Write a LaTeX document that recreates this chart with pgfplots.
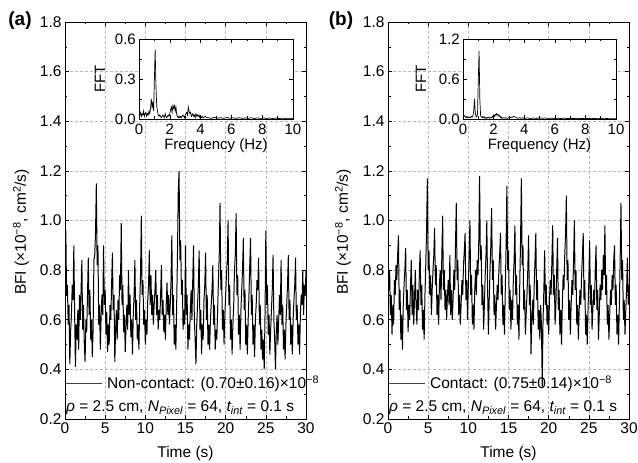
\documentclass[border=0pt]{standalone}
\usepackage{fontspec}
\setmainfont{Liberation Sans}
\usepackage{pgfplots}
\pgfplotsset{compat=1.18}
\newcommand{\fs}{\fontsize{15.5bp}{18bp}\selectfont}
\newcommand{\fsi}{\fontsize{15bp}{17bp}\selectfont}
\pgfplotsset{
  common/.style={scale only axis, anchor=south west,
    tick align=inside, major tick length=4bp, minor tick length=2.5bp,
    every tick/.style={black, line width=0.5pt},
    axis line style={line width=0.7pt},
    tick label style={font=\fs},
    /pgf/number format/assume math mode=true,
    y tick label style={/pgf/number format/.cd, fixed, fixed zerofill, precision=1, /tikz/.cd},
    x tick label style={/pgf/number format/.cd, fixed, precision=0, /tikz/.cd}},
  main/.style={common, width=241bp, height=397bp,
    xmin=0, xmax=30, ymin=0.2, ymax=1.8,
    xtick={0,5,10,15,20,25,30}, ytick={0.2,0.4,0.6,0.8,1.0,1.2,1.4,1.6,1.8},
    minor x tick num=1, minor y tick num=1,
    grid=major, major grid style={gray!55, dash pattern=on 2.5bp off 2.5bp, line width=0.5pt},
    legend style={at={(0,0.0907)}, anchor=west, draw=none, fill=none, inner sep=0pt, font=\fs, nodes={inner sep=0pt}},
    legend image code/.code={\draw[black!75, line width=0.9pt] (0bp,0bp) -- (36.7bp,0bp); \path (41bp,0bp);}},
  inset/.style={common, width=154bp, height=80bp,
    xmin=0, xmax=10, ymin=0,
    xtick={0,2,4,6,8,10}, minor x tick num=1, minor y tick num=1,
    tick label style={font=\fsi},
    x tick label style={inner sep=0pt, yshift=-4.5bp},
    y tick label style={inner sep=1bp, xshift=-2bp},
    axis background/.style={fill=white}},
}
\begin{document}
\begin{tikzpicture}
\path[use as bounding box] (0,0) rectangle (638bp,463bp);
% ---------------- (a) main
\begin{axis}[main, at={(65bp,44bp)}]
\addplot[black, line width=1pt] coordinates {
(0.0,0.78)(0.1,0.96)(0.2,0.70)(0.3,0.74)(0.4,0.58)(0.5,0.66)(0.6,0.42)(0.7,0.55)(0.8,0.62)(0.9,0.74)
(1.0,0.68)(1.1,0.90)(1.2,0.62)(1.3,0.41)(1.4,0.58)(1.5,0.52)(1.6,0.64)(1.7,0.48)(1.8,0.70)(1.9,0.60)
(2.0,0.72)(2.1,0.84)(2.2,0.56)(2.3,0.66)(2.4,0.50)(2.5,0.43)(2.6,0.60)(2.7,0.55)(2.8,0.70)(2.9,0.85)
(3.0,0.62)(3.1,0.72)(3.2,0.52)(3.3,0.60)(3.4,0.45)(3.5,0.56)(3.6,0.84)(3.7,0.86)(3.8,0.95)(3.9,1.15)
(4.0,0.82)(4.1,0.90)(4.2,0.58)(4.3,0.66)(4.4,0.48)(4.5,0.62)(4.6,0.70)(4.7,0.62)(4.8,0.90)(4.9,0.66)
(5.0,0.72)(5.1,0.54)(5.2,0.63)(5.3,0.47)(5.4,0.58)(5.5,0.50)(5.6,0.66)(5.7,0.60)(5.8,0.74)(5.9,0.87)
(6.0,0.64)(6.1,0.70)(6.2,0.43)(6.3,0.56)(6.4,0.64)(6.5,0.52)(6.6,0.68)(6.7,0.60)(6.8,0.78)(6.9,0.72)
(7.0,0.99)(7.1,0.66)(7.2,0.74)(7.3,0.55)(7.4,0.62)(7.5,0.47)(7.6,0.58)(7.7,0.66)(7.8,0.56)(7.9,0.80)
(8.0,0.62)(8.1,0.70)(8.2,0.53)(8.3,0.60)(8.4,0.46)(8.5,0.62)(8.6,0.70)(8.7,0.84)(8.8,0.60)(8.9,0.68)
(9.0,0.52)(9.1,0.58)(9.2,0.48)(9.3,0.66)(9.4,0.78)(9.5,1.02)(9.6,0.70)(9.7,0.76)(9.8,0.58)(9.9,0.64)
(10.0,0.50)(10.1,0.60)(10.2,0.54)(10.3,0.68)(10.4,0.74)(10.5,0.88)(10.6,0.66)(10.7,0.78)(10.8,0.62)(10.9,0.70)
(11.0,0.58)(11.1,0.66)(11.2,0.72)(11.3,0.80)(11.4,0.62)(11.5,0.70)(11.6,0.56)(11.7,0.64)(11.8,0.60)(11.9,0.70)
(12.0,0.82)(12.1,0.62)(12.2,0.68)(12.3,0.55)(12.4,0.62)(12.5,0.52)(12.6,0.66)(12.7,0.75)(12.8,0.62)(12.9,0.70)
(13.0,0.58)(13.1,0.66)(13.2,0.76)(13.3,0.94)(13.4,0.62)(13.5,0.70)(13.6,0.50)(13.7,0.58)(13.8,0.48)(13.9,0.66)
(14.0,0.86)(14.1,1.12)(14.2,1.20)(14.3,0.84)(14.4,0.92)(14.5,0.70)(14.6,0.76)(14.7,0.56)(14.8,0.64)(14.9,0.58)
(15.0,0.90)(15.1,0.62)(15.2,0.70)(15.3,0.48)(15.4,0.58)(15.5,0.52)(15.6,0.64)(15.7,0.72)(15.8,0.60)(15.9,0.76)
(16.0,0.90)(16.1,0.60)(16.2,0.52)(16.3,0.42)(16.4,0.58)(16.5,0.66)(16.6,0.74)(16.7,0.88)(16.8,0.56)(16.9,0.64)
(17.0,0.46)(17.1,0.58)(17.2,0.52)(17.3,0.68)(17.4,0.74)(17.5,0.87)(17.6,0.60)(17.7,0.70)(17.8,0.50)(17.9,0.58)
(18.0,0.48)(18.1,0.60)(18.2,0.66)(18.3,0.72)(18.4,0.82)(18.5,0.58)(18.6,0.66)(18.7,0.48)(18.8,0.56)(18.9,0.52)
(19.0,0.64)(19.1,0.76)(19.2,0.86)(19.3,1.07)(19.4,0.72)(19.5,0.80)(19.6,0.56)(19.7,0.64)(19.8,0.50)(19.9,0.62)
(20.0,0.70)(20.1,0.78)(20.2,0.84)(20.3,1.00)(20.4,0.66)(20.5,0.74)(20.6,0.52)(20.7,0.60)(20.8,0.46)(20.9,0.58)
(21.0,0.66)(21.1,0.80)(21.2,0.86)(21.3,1.03)(21.4,0.70)(21.5,0.78)(21.6,0.54)(21.7,0.62)(21.8,0.48)(21.9,0.64)
(22.0,0.72)(22.1,0.80)(22.2,0.93)(22.3,0.64)(22.4,0.72)(22.5,0.50)(22.6,0.58)(22.7,0.46)(22.8,0.60)(22.9,0.70)
(23.0,0.82)(23.1,0.93)(23.2,0.62)(23.3,0.70)(23.4,0.50)(23.5,0.58)(23.6,0.45)(23.7,0.60)(23.8,0.66)(23.9,0.76)
(24.0,0.72)(24.1,0.85)(24.2,0.58)(24.3,0.66)(24.4,0.48)(24.5,0.56)(24.6,0.44)(24.7,0.52)(24.8,0.40)(24.9,0.62)
(25.0,0.96)(25.1,0.66)(25.2,0.74)(25.3,0.54)(25.4,0.62)(25.5,0.46)(25.6,0.56)(25.7,0.64)(25.8,0.72)(25.9,0.86)
(26.0,0.60)(26.1,0.52)(26.2,0.40)(26.3,0.55)(26.4,0.62)(26.5,0.50)(26.6,0.60)(26.7,0.70)(26.8,0.62)(26.9,0.84)
(27.0,0.58)(27.1,0.66)(27.2,0.48)(27.3,0.56)(27.4,0.44)(27.5,0.58)(27.6,0.66)(27.7,0.74)(27.8,0.86)(27.9,0.60)
(28.0,0.68)(28.1,0.50)(28.2,0.58)(28.3,0.46)(28.4,0.60)(28.5,0.68)(28.6,0.74)(28.7,0.85)(28.8,0.60)(28.9,0.66)
(29.0,0.50)(29.1,0.58)(29.2,0.46)(29.3,0.62)(29.4,0.70)(29.5,0.66)(29.6,0.80)(29.7,0.62)(29.8,0.74)(29.9,0.70)(30.0,0.80)
};
\addlegendentry{Non-contact: (0.70±0.16)×10\textsuperscript{−8}}
\end{axis}
% ---------------- (a) inset
\begin{axis}[inset, at={(139bp,344bp)}, ymax=0.6, ytick={0,0.3,0.6}]
\addplot[black, line width=0.7pt] coordinates {
(0.00,0.10)(0.05,0.03)(0.10,0.05)(0.15,0.02)(0.20,0.04)(0.25,0.03)(0.30,0.06)(0.35,0.02)(0.40,0.04)(0.45,0.05)
(0.50,0.02)(0.55,0.04)(0.60,0.03)(0.65,0.06)(0.70,0.04)(0.75,0.08)(0.80,0.15)(0.85,0.09)(0.90,0.12)(0.95,0.06)
(1.00,0.30)(1.05,0.52)(1.10,0.25)(1.15,0.10)(1.20,0.06)(1.25,0.03)(1.30,0.02)(1.35,0.03)(1.40,0.02)(1.45,0.01)
(1.50,0.02)(1.55,0.03)(1.60,0.02)(1.65,0.01)(1.70,0.04)(1.75,0.02)(1.80,0.01)(1.85,0.02)(1.90,0.03)(1.95,0.02)
(2.00,0.04)(2.05,0.07)(2.10,0.09)(2.15,0.05)(2.20,0.10)(2.25,0.08)(2.30,0.10)(2.35,0.06)(2.40,0.09)(2.45,0.03)
(2.50,0.02)(2.55,0.01)(2.60,0.02)(2.65,0.01)(2.70,0.02)(2.75,0.01)(2.80,0.02)(2.85,0.03)(2.90,0.02)(2.95,0.01)
(3.00,0.03)(3.05,0.04)(3.10,0.05)(3.15,0.03)(3.20,0.09)(3.25,0.06)(3.30,0.04)(3.35,0.05)(3.40,0.02)(3.45,0.03)
(3.50,0.04)(3.55,0.02)(3.60,0.03)(3.65,0.01)(3.70,0.04)(3.75,0.02)(3.80,0.03)(3.85,0.02)(3.90,0.03)(3.95,0.01)
(4.00,0.02)(4.05,0.01)(4.10,0.02)(4.15,0.01)(4.20,0.01)(4.30,0.02)(4.40,0.01)(4.50,0.01)(4.70,0.005)(4.90,0.012)
(5.10,0.006)(5.30,0.010)(5.50,0.005)(5.70,0.011)(5.90,0.006)(6.10,0.009)(6.30,0.005)(6.50,0.010)(6.70,0.005)(6.90,0.008)
(7.10,0.005)(7.30,0.009)(7.50,0.004)(7.70,0.008)(7.90,0.005)(8.10,0.008)(8.30,0.004)(8.50,0.007)(8.70,0.004)(8.90,0.007)
(9.10,0.004)(9.30,0.006)(9.50,0.004)(9.70,0.006)(9.90,0.004)(10.0,0.005)
};
\end{axis}
% ---------------- (b) main
\begin{axis}[main, at={(388bp,44bp)}]
\addplot[black, line width=1pt] coordinates {
(0.0,0.93)(0.1,0.72)(0.2,0.80)(0.3,0.62)(0.4,0.70)(0.5,0.54)(0.6,0.66)(0.7,0.58)(0.8,0.76)(0.9,0.70)
(1.0,0.82)(1.1,0.76)(1.2,0.86)(1.3,0.94)(1.4,0.64)(1.5,0.72)(1.6,0.52)(1.7,0.62)(1.8,0.48)(1.9,0.66)
(2.0,0.74)(2.1,0.80)(2.2,0.89)(2.3,0.64)(2.4,0.72)(2.5,0.55)(2.6,0.66)(2.7,0.60)(2.8,0.74)(2.9,0.84)
(3.0,0.62)(3.1,0.74)(3.2,0.58)(3.3,0.68)(3.4,0.80)(3.5,0.66)(3.6,0.58)(3.7,0.72)(3.8,0.64)(3.9,0.78)
(4.0,0.88)(4.1,0.66)(4.2,0.74)(4.3,0.56)(4.4,0.64)(4.5,0.52)(4.6,0.70)(4.7,0.82)(4.8,0.96)(4.9,1.17)
(5.0,0.80)(5.1,0.88)(5.2,0.70)(5.3,0.78)(5.4,0.62)(5.5,0.72)(5.6,0.80)(5.7,0.86)(5.8,0.97)(5.9,0.74)
(6.0,0.82)(6.1,0.62)(6.2,0.70)(6.3,0.58)(6.4,0.74)(6.5,0.80)(6.6,0.68)(6.7,0.86)(6.8,1.02)(6.9,0.72)
(7.0,0.80)(7.1,0.64)(7.2,0.72)(7.3,0.60)(7.4,0.70)(7.5,0.76)(7.6,0.66)(7.7,0.86)(7.8,0.62)(7.9,0.72)
(8.0,0.60)(8.1,0.68)(8.2,0.80)(8.3,0.72)(8.4,0.90)(8.5,1.07)(8.6,0.76)(8.7,0.84)(8.8,0.62)(8.9,0.70)
(9.0,0.58)(9.1,0.66)(9.2,0.76)(9.3,0.70)(9.4,0.82)(9.5,0.88)(9.6,0.95)(9.7,0.68)(9.8,0.76)(9.9,0.60)
(10.0,0.74)(10.1,0.86)(10.2,1.00)(10.3,0.70)(10.4,0.78)(10.5,0.58)(10.6,0.66)(10.7,0.56)(10.8,0.72)(10.9,0.80)
(11.0,0.70)(11.1,0.84)(11.2,0.78)(11.3,0.92)(11.4,1.18)(11.5,0.84)(11.6,0.90)(11.7,0.66)(11.8,0.74)(11.9,0.56)
(12.0,0.66)(12.1,0.78)(12.2,0.86)(12.3,1.00)(12.4,0.72)(12.5,0.54)(12.6,0.68)(12.7,0.80)(12.8,0.90)(12.9,1.05)
(13.0,0.76)(13.1,0.84)(13.2,0.62)(13.3,0.70)(13.4,0.56)(13.5,0.66)(13.6,0.74)(13.7,0.68)(13.8,0.80)(13.9,0.86)
(14.0,0.95)(14.1,0.70)(14.2,0.78)(14.3,0.58)(14.4,0.66)(14.5,0.54)(14.6,0.72)(14.7,0.90)(14.8,1.14)(14.9,0.80)
(15.0,0.88)(15.1,0.64)(15.2,0.72)(15.3,0.56)(15.4,0.68)(15.5,0.60)(15.6,0.76)(15.7,0.84)(15.8,0.98)(15.9,0.70)
(16.0,0.78)(16.1,0.58)(16.2,0.66)(16.3,0.52)(16.4,0.74)(16.5,0.92)(16.6,1.17)(16.7,0.82)(16.8,0.90)(16.9,0.64)
(17.0,0.72)(17.1,0.54)(17.2,0.62)(17.3,0.70)(17.4,0.80)(17.5,0.94)(17.6,0.66)(17.7,0.74)(17.8,0.46)(17.9,0.60)
(18.0,0.68)(18.1,0.58)(18.2,0.74)(18.3,0.84)(18.4,0.95)(18.5,0.68)(18.6,0.76)(18.7,0.56)(18.8,0.64)(18.9,0.52)
(19.0,0.66)(19.1,0.58)(19.2,0.33)(19.3,0.60)(19.4,0.72)(19.5,0.88)(19.6,0.66)(19.7,0.74)(19.8,0.58)(19.9,0.66)
(20.0,0.54)(20.1,0.68)(20.2,0.76)(20.3,0.70)(20.4,0.84)(20.5,0.98)(20.6,0.70)(20.7,0.78)(20.8,0.58)(20.9,0.66)
(21.0,0.80)(21.1,0.93)(21.2,0.64)(21.3,0.72)(21.4,0.54)(21.5,0.64)(21.6,0.50)(21.7,0.66)(21.8,0.78)(21.9,0.72)
(22.0,0.86)(22.1,0.94)(22.2,1.10)(22.3,0.76)(22.4,0.84)(22.5,0.60)(22.6,0.68)(22.7,0.54)(22.8,0.66)(22.9,0.76)
(23.0,0.70)(23.1,0.84)(23.2,1.00)(23.3,0.72)(23.4,0.80)(23.5,0.58)(23.6,0.66)(23.7,0.52)(23.8,0.64)(23.9,0.72)
(24.0,0.66)(24.1,0.78)(24.2,0.86)(24.3,0.95)(24.4,0.68)(24.5,0.76)(24.6,0.54)(24.7,0.62)(24.8,0.50)(24.9,0.64)
(25.0,0.76)(25.1,0.92)(25.2,0.66)(25.3,0.74)(25.4,0.56)(25.5,0.64)(25.6,0.72)(25.7,0.66)(25.8,0.80)(25.9,0.90)
(26.0,0.64)(26.1,0.72)(26.2,0.52)(26.3,0.62)(26.4,0.74)(26.5,0.68)(26.6,0.80)(26.7,0.72)(26.8,0.86)(26.9,0.78)
(27.0,0.98)(27.1,0.70)(27.2,0.78)(27.3,0.58)(27.4,0.66)(27.5,0.52)(27.6,0.62)(27.7,0.72)(27.8,0.66)(27.9,0.78)
(28.0,0.72)(28.1,0.84)(28.2,0.90)(28.3,0.66)(28.4,0.74)(28.5,0.54)(28.6,0.62)(28.7,0.50)(28.8,0.66)(28.9,0.84)
(29.0,1.07)(29.1,0.76)(29.2,0.84)(29.3,0.60)(29.4,0.68)(29.5,0.54)(29.6,0.64)(29.7,0.72)(29.8,0.85)(29.9,0.66)(30.0,0.74)
};
\addlegendentry{Contact: (0.75±0.14)×10\textsuperscript{−8}}
\end{axis}
% ---------------- (b) inset
\begin{axis}[inset, at={(463bp,344bp)}, width=153bp, ymax=1.2, ytick={0,0.6,1.2}]
\addplot[black, line width=0.7pt] coordinates {
(0.00,0.06)(0.05,0.04)(0.10,0.05)(0.15,0.03)(0.20,0.02)(0.25,0.04)(0.30,0.02)(0.35,0.03)(0.40,0.02)(0.45,0.03)
(0.50,0.02)(0.55,0.04)(0.60,0.03)(0.65,0.05)(0.70,0.12)(0.75,0.30)(0.80,0.10)(0.85,0.04)(0.90,0.03)(0.95,0.08)
(1.00,0.60)(1.05,1.02)(1.10,0.30)(1.15,0.05)(1.20,0.03)(1.25,0.02)(1.30,0.04)(1.35,0.02)(1.40,0.03)(1.45,0.01)
(1.50,0.02)(1.55,0.01)(1.60,0.02)(1.65,0.03)(1.70,0.02)(1.75,0.01)(1.80,0.02)(1.85,0.03)(1.90,0.02)(1.95,0.04)
(2.00,0.06)(2.05,0.04)(2.10,0.07)(2.15,0.05)(2.20,0.08)(2.25,0.06)(2.30,0.07)(2.35,0.04)(2.40,0.05)(2.45,0.02)
(2.50,0.03)(2.55,0.01)(2.60,0.02)(2.70,0.01)(2.80,0.02)(2.90,0.01)(3.00,0.02)(3.10,0.03)(3.20,0.02)(3.30,0.04)
(3.40,0.03)(3.50,0.02)(3.60,0.01)(3.70,0.02)(3.80,0.01)(3.90,0.02)(4.00,0.01)(4.20,0.015)(4.40,0.008)(4.60,0.015)
(4.80,0.008)(5.00,0.018)(5.20,0.010)(5.40,0.015)(5.60,0.008)(5.80,0.012)(6.00,0.007)(6.20,0.012)(6.40,0.007)(6.60,0.014)
(6.80,0.006)(7.00,0.010)(7.20,0.006)(7.40,0.010)(7.60,0.005)(7.80,0.009)(8.00,0.005)(8.20,0.008)(8.40,0.005)(8.60,0.008)
(8.80,0.004)(9.00,0.008)(9.20,0.004)(9.40,0.007)(9.60,0.004)(9.80,0.006)(10.0,0.004)
};
\end{axis}
% ---------------- texts
\node[font=\bfseries\fontsize{19bp}{22bp}\selectfont] at (20bp,442bp) {(a)};
\node[font=\bfseries\fontsize{19bp}{22bp}\selectfont] at (341bp,442bp) {(b)};
\node[rotate=90, font=\fs] at (21bp,231bp) {BFI (×10\textsuperscript{−8}, cm\textsuperscript{2}/s)};
\node[rotate=90, font=\fs] at (343bp,231bp) {BFI (×10\textsuperscript{−8}, cm\textsuperscript{2}/s)};
\node[font=\fs] at (185.5bp,10bp) {Time (s)};
\node[font=\fs] at (508.5bp,10bp) {Time (s)};
\node[font=\fsi, anchor=base, inner sep=0pt] at (216bp,313.5bp) {Frequency (Hz)};
\node[font=\fsi, anchor=base, inner sep=0pt] at (539.5bp,313.5bp) {Frequency (Hz)};
\node[rotate=90, font=\fsi, inner sep=1bp] at (100bp,384bp) {FFT};
\node[rotate=90, font=\fsi, inner sep=1bp] at (421bp,384bp) {FFT};
\node[anchor=base west, font=\fs, inner sep=0pt] at (66bp,51bp) {{\itshape ρ} = 2.5 cm, {\itshape N}\textsubscript{\itshape Pixel} = 64, {\itshape t}\textsubscript{\itshape int} = 0.1 s};
\node[anchor=base west, font=\fs, inner sep=0pt] at (389bp,51bp) {{\itshape ρ} = 2.5 cm, {\itshape N}\textsubscript{\itshape Pixel} = 64, {\itshape t}\textsubscript{\itshape int} = 0.1 s};
\end{tikzpicture}
\end{document}
